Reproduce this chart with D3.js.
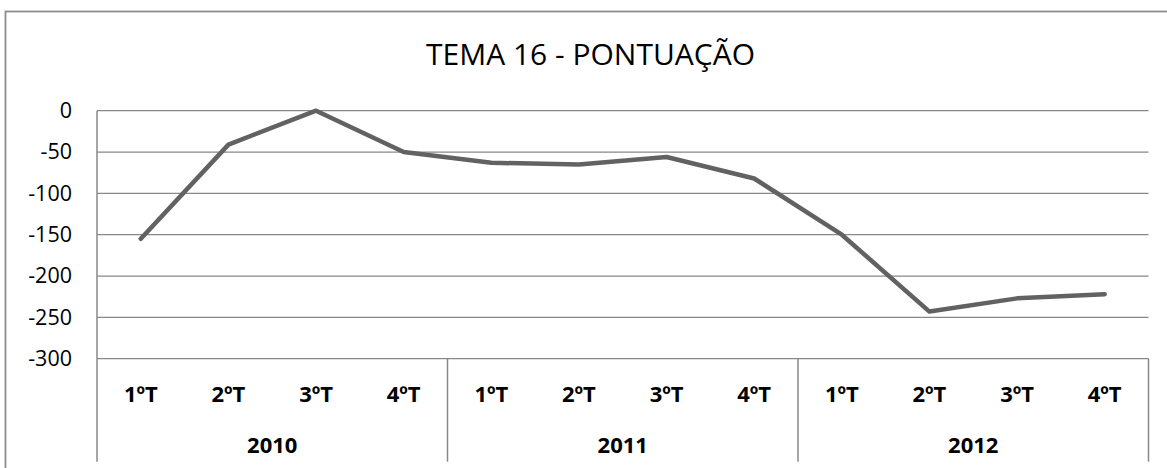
<!DOCTYPE html>
<html>
<head>
<meta charset="utf-8">
<script src="https://cdn.jsdelivr.net/npm/d3@7/dist/d3.min.js"></script>
<style>
  html, body { margin: 0; padding: 0; background: #fff; }
  svg { display: block; }
  text { font-family: "Open Sans", "Liberation Sans", sans-serif; fill: #000; }
  .cat { font-weight: bold; }
</style>
</head>
<body>
<svg id="chart" width="1167" height="468"></svg>
<script>
// Quarter labels, year groups and the score for each quarter
const quarters = ["1ºT", "2ºT", "3ºT", "4ºT"];
const years = ["2010", "2011", "2012"];
const scores = [-155, -41, 0, -50, -63, -65, -56, -82, -150, -243, -227, -222];
const yTicks = [0, -50, -100, -150, -200, -250, -300];
const title = "TEMA 16 - PONTUAÇÃO";

const svg = d3.select("#chart");
const W = 1167, H = 468;
const plot = { left: 97, right: 1148.5, top: 110.7, bottom: 358.7 };
const gridColor = "#888888";

// Outer chart frame (runs past the right and bottom edges)
svg.append("rect")
  .attr("x", 5.5).attr("y", 11.5)
  .attr("width", W + 10).attr("height", H + 10)
  .attr("fill", "none").attr("stroke", "#8c8c8c").attr("stroke-width", 1.8);

// Title
svg.append("text")
  .attr("x", 590.5).attr("y", 65)
  .attr("text-anchor", "middle")
  .attr("font-size", 30)
  .text(title);

// One slot per quarter across all years
const cats = [];
years.forEach(y => quarters.forEach(q => cats.push({ year: y, q })));

const x = d3.scaleBand()
  .domain(d3.range(cats.length))
  .range([plot.left, plot.right]);

const y = d3.scaleLinear()
  .domain([-300, 0])
  .range([plot.bottom, plot.top]);

// Horizontal gridlines
svg.append("g")
  .selectAll("line")
  .data(yTicks)
  .join("line")
  .attr("x1", plot.left).attr("x2", plot.right)
  .attr("y1", d => y(d)).attr("y2", d => y(d))
  .attr("stroke", gridColor).attr("stroke-width", 1.2);

// Value axis labels (plain hyphen for negatives)
const yAxis = d3.axisLeft(y)
  .tickValues(yTicks)
  .tickFormat(d => String(d))
  .tickSize(0)
  .tickPadding(25);
const yg = svg.append("g")
  .attr("transform", `translate(${plot.left},0)`)
  .call(yAxis);
yg.select(".domain").remove();
yg.selectAll("text")
  .attr("font-size", 21.5)
  .attr("fill", "#000");

// Value axis line, extended down through the category labels
const axisBottom = 461.7;
svg.append("line")
  .attr("x1", plot.left).attr("x2", plot.left)
  .attr("y1", plot.top).attr("y2", axisBottom)
  .attr("stroke", gridColor).attr("stroke-width", 1.5);

// Year group separators
const groupEdges = d3.range(1, years.length + 1).map(i => x(i * quarters.length - 1) + x.bandwidth());
svg.append("g")
  .selectAll("line")
  .data(groupEdges)
  .join("line")
  .attr("x1", d => d).attr("x2", d => d)
  .attr("y1", plot.bottom).attr("y2", axisBottom)
  .attr("stroke", gridColor).attr("stroke-width", 1.5);

// Quarter labels
svg.append("g")
  .selectAll("text")
  .data(cats)
  .join("text")
  .attr("class", "cat")
  .attr("x", (d, i) => x(i) + x.bandwidth() / 2)
  .attr("y", 401.7)
  .attr("text-anchor", "middle")
  .attr("font-size", 22)
  .text(d => d.q);

// Year labels centred under their quarters
svg.append("g")
  .selectAll("text")
  .data(years)
  .join("text")
  .attr("class", "cat")
  .attr("x", (d, i) => (x(i * quarters.length) + groupEdges[i]) / 2)
  .attr("y", 453.3)
  .attr("text-anchor", "middle")
  .attr("font-size", 22)
  .text(d => d);

// Score line
const line = d3.line()
  .x((d, i) => x(i) + x.bandwidth() / 2)
  .y(d => y(d));

svg.append("path")
  .datum(scores)
  .attr("d", line)
  .attr("fill", "none")
  .attr("stroke", "#626262")
  .attr("stroke-width", 4.5)
  .attr("stroke-linejoin", "round")
  .attr("stroke-linecap", "round");
</script>
</body>
</html>
